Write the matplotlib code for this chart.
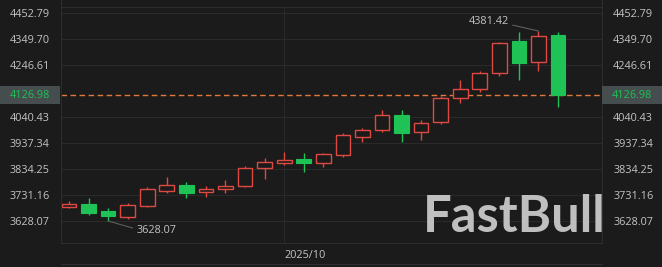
import matplotlib
matplotlib.use("Agg")
import matplotlib.pyplot as plt
from matplotlib.patches import Rectangle
from matplotlib.lines import Line2D
from matplotlib import transforms

# daily candles, mid Sep -> Oct 21
opens = [3683.6, 3695.5, 3669.0, 3645.1, 3688.7, 3748.2, 3770.8, 3743.0, 3754.9, 3766.8,
         3838.2, 3858.0, 3873.9, 3858.0, 3889.8, 3961.1, 3988.9, 4048.4, 3980.9, 4020.6,
         4115.7, 4151.4, 4214.9, 4341.8, 4258.5, 4365.6]
closes = [3695.5, 3659.8, 3649.1, 3691.5, 3754.9, 3770.8, 3737.9, 3754.9, 3766.8, 3838.2,
          3862.0, 3869.9, 3858.0, 3893.7, 3969.0, 3988.9, 4048.4, 3977.0, 4016.6, 4115.7,
          4151.4, 4214.9, 4333.9, 4254.5, 4361.6, 4126.98]
highs = [3707.4, 3719.2, 3678.4, 3698.2, 3764.1, 3803.7, 3783.9, 3766.8, 3790.6, 3846.2,
         3877.9, 3901.6, 3897.7, 3897.7, 3977.0, 3996.8, 4068.2, 4068.2, 4028.5, 4123.7,
         4187.1, 4222.8, 4337.8, 4378.0, 4381.42, 4377.0]
lows = [3679.6, 3649.9, 3628.07, 3636.0, 3684.8, 3737.9, 3718.0, 3723.2, 3739.1, 3762.9,
        3794.6, 3850.1, 3822.4, 3842.2, 3881.8, 3940.8, 3980.9, 3940.8, 3949.2, 4012.7,
        4095.9, 4139.5, 4203.0, 4187.1, 4222.8, 4080.1]

price_ticks = [3628.07, 3731.16, 3834.25, 3937.34, 4040.43, 4246.61, 4349.70, 4452.79]
date_ticks = [11]
date_labels = ["2025/10"]
last_price = 4126.98
max_label = "4381.42"
min_label = "3628.07"

BG = "#1b1b1b"
GRID = "#2a2a2a"
TXT = "#c4c4c4"
UP = "#de4a42"
DOWN = "#1fc255"

plt.rcParams['font.family'] = ['Open Sans', 'DejaVu Sans']

fig = plt.figure(figsize=(6.62, 2.67), dpi=100, facecolor=BG)
W, H = 662.0, 267.0
ax = fig.add_axes([61 / W, 24 / H, 541 / W, 236 / H], facecolor=BG)

n = len(opens)
bw = 0.75
for i in range(n):
    o, c, hi, lo = opens[i], closes[i], highs[i], lows[i]
    top, bot = max(o, c), min(o, c)
    if c >= o:
        ax.plot([i, i], [top, hi], color=UP, lw=1.0, solid_capstyle='butt', zorder=3)
        ax.plot([i, i], [lo, bot], color=UP, lw=1.0, solid_capstyle='butt', zorder=3)
        ax.add_patch(Rectangle((i - bw / 2, bot), bw, max(top - bot, 1.5),
                               facecolor=BG, edgecolor=UP, lw=1.0, zorder=4))
    else:
        ax.plot([i, i], [lo, hi], color=DOWN, lw=1.0, solid_capstyle='butt', zorder=3)
        ax.add_patch(Rectangle((i - bw / 2, bot), bw, max(top - bot, 1.5),
                               facecolor=DOWN, edgecolor=DOWN, lw=0.8, zorder=4))

ax.set_xlim(-0.41, 27.25)
ax.set_ylim(3540.8, 4476.6)

ax.set_yticks(price_ticks)
ax.set_yticklabels(["%.2f" % t for t in price_ticks])
ax.tick_params(axis='y', length=0, colors=TXT, labelsize=7.8, left=False, right=False,
               labelleft=True, labelright=True, pad=8)

ax.set_xticks(date_ticks)
ax.set_xticklabels(date_labels, ha='left')
ax.tick_params(axis='x', length=0, colors=TXT, labelsize=7.8, pad=5)

ax.grid(True, color=GRID, lw=0.8)
for s in ax.spines.values():
    s.set_color("#2d2d2d")
    s.set_linewidth(0.8)

# current price line and tags
ax.axhline(last_price, color="#e07a3c", lw=1.0, ls=(0, (4, 2.5)), zorder=2)
blend = transforms.blended_transform_factory(fig.transFigure, ax.transData)
tag_h = 18 * 3.965
for x0, x1 in [(0, 60 / W), (602 / W, 1.0)]:
    fig.add_artist(Rectangle((x0, last_price - tag_h / 2), x1 - x0, tag_h,
                             transform=blend, facecolor="#454d4e", edgecolor='none',
                             clip_on=False, zorder=5))
fig.text(50 / W, last_price, "%.2f" % last_price, transform=blend, ha='right', va='center',
         color=DOWN, fontsize=7.8, zorder=6)
fig.text(612 / W, last_price, "%.2f" % last_price, transform=blend, ha='left', va='center',
         color=DOWN, fontsize=7.8, zorder=6)

# max / min markers
imax = highs.index(max(highs))
imin = lows.index(min(lows))
ax.annotate(max_label, xy=(imax, highs[imax]), xytext=(-36, 6.5), textcoords='offset points',
            ha='center', va='center', color=TXT, fontsize=7.8,
            arrowprops=dict(arrowstyle='-', color="#5e5e5e", lw=0.8, relpos=(1.0, 0.3),
                            shrinkA=1, shrinkB=0))
ax.annotate(min_label, xy=(imin, lows[imin]), xytext=(35, -6.7), textcoords='offset points',
            ha='center', va='center', color=TXT, fontsize=7.8,
            arrowprops=dict(arrowstyle='-', color="#5e5e5e", lw=0.8, relpos=(0.0, 0.6),
                            shrinkA=1, shrinkB=0))

# bottom band of time axis
fig.add_artist(Line2D([61 / W, 602 / W], [3 / H, 3 / H], color="#2d2d2d", lw=0.8))
fig.add_artist(Line2D([61 / W, 61 / W], [24 / H, 1.0], color="#2d2d2d", lw=0.8))
fig.add_artist(Line2D([602 / W, 602 / W], [24 / H, 1.0], color="#2d2d2d", lw=0.8))

# watermark
fig.text(514 / W, 50 / H, "FastBull", ha='center', va='center', color="#bfbfbf",
         fontsize=36.5, fontweight='bold', family=['Lato', 'DejaVu Sans'], zorder=10)

fig.savefig("out.png", dpi=100, facecolor=BG)
